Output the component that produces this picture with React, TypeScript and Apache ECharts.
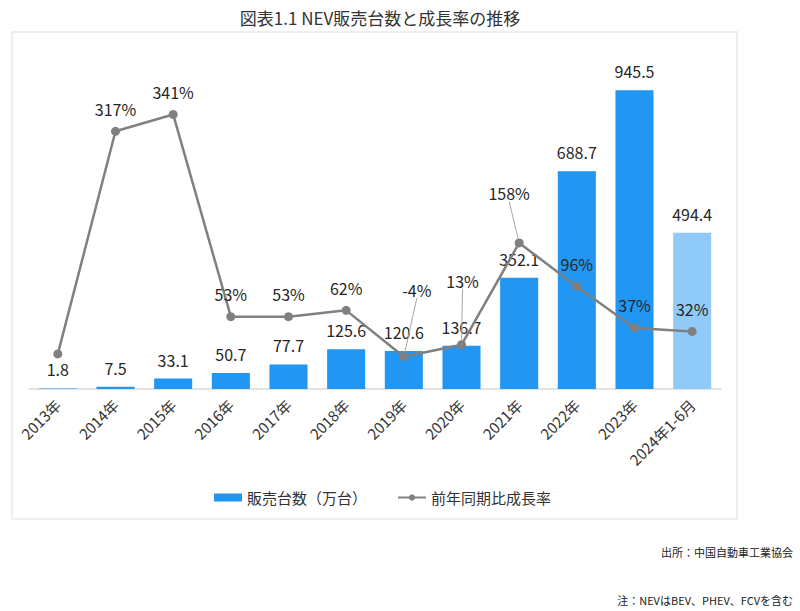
import React, { useEffect, useRef } from "react";
import * as echarts from "echarts";

const categories = [
  "2013年", "2014年", "2015年", "2016年", "2017年", "2018年",
  "2019年", "2020年", "2021年", "2022年", "2023年", "2024年1-6月",
];
const sales = [1.8, 7.5, 33.1, 50.7, 77.7, 125.6, 120.6, 136.7, 352.1, 688.7, 945.5, 494.4];
const growth = [0, 317, 341, 53, 53, 62, -4, 13, 158, 96, 37, 32];
const seriesNames = ["販売台数（万台）", "前年同期比成長率"];
const titleText = "図表1.1 NEV販売台数と成長率の推移";
const sourceText = "出所：中国自動車工業協会";
const noteText = "注：NEVはBEV、PHEV、FCVを含む";

const FONT = "'Noto Sans CJK JP', 'Noto Sans', sans-serif";

// label offsets for growth labels with leader lines
const growthLabelShift: Record<number, [number, number]> = {
  6: [13, -44],
  7: [1, -41],
  8: [-10, -27],
};

export default function App() {
  const ref = useRef<HTMLDivElement>(null);
  useEffect(() => {
    if (!ref.current) return;
    const chart = echarts.init(ref.current, null, { renderer: "svg" });
    const option: any = {
      animation: false,
      backgroundColor: "#ffffff",
      textStyle: { fontFamily: FONT },
      title: {
        text: titleText,
        left: 375,
        top: 4,
        textAlign: "center",
        textStyle: { fontFamily: FONT, fontSize: 17, fontWeight: "normal", color: "#333333" },
      },
      graphic: [
        {
          type: "rect",
          z: -10,
          shape: { x: 12, y: 32, width: 725, height: 487 },
          style: { fill: "none", stroke: "#eeeeee", lineWidth: 2 },
        },
        {
          type: "text",
          x: 793,
          y: 552,
          style: {
            text: sourceText,
            align: "right",
            verticalAlign: "middle",
            fontFamily: FONT,
            fontSize: 11,
            fill: "#222222",
          },
        },
        {
          type: "text",
          x: 793,
          y: 600,
          style: {
            text: noteText,
            align: "right",
            verticalAlign: "middle",
            fontFamily: FONT,
            fontSize: 11,
            fill: "#222222",
          },
        },
      ],
      legend: {
        left: 209,
        top: 485,
        itemGap: 30,
        itemWidth: 28,
        itemHeight: 8,
        textStyle: { fontFamily: FONT, fontSize: 15, color: "#333333" },
        data: [
          { name: seriesNames[0], icon: "rect" },
          { name: seriesNames[1] },
        ],
      },
      grid: { left: 29, right: 79, top: 73, bottom: 222, containLabel: false },
      xAxis: {
        type: "category",
        data: categories,
        axisLine: { show: true, lineStyle: { color: "#d9d9d9", width: 1.5 } },
        axisTick: { show: false },
        axisLabel: {
          rotate: 45,
          interval: 0,
          margin: 13,
          fontFamily: FONT,
          fontSize: 15,
          color: "#333333",
        },
      },
      yAxis: [
        { type: "value", min: 0, max: 1000, show: false, splitLine: { show: false } },
        { type: "value", min: -50, max: 400, show: false, splitLine: { show: false } },
      ],
      series: [
        {
          name: seriesNames[0],
          type: "bar",
          yAxisIndex: 0,
          barCategoryGap: "34%",
          itemStyle: { color: "#2196f3" },
          label: {
            show: true,
            position: "top",
            distance: 11,
            fontFamily: FONT,
            fontSize: 16,
            color: "#262626",
          },
          data: sales.map((v, i) =>
            i === sales.length - 1
              ? { value: v, itemStyle: { color: "#90caf9" } }
              : { value: v }
          ),
          z: 2,
        },
        {
          name: seriesNames[1],
          type: "line",
          yAxisIndex: 1,
          symbol: "circle",
          symbolSize: 9,
          itemStyle: { color: "#808080" },
          lineStyle: { color: "#808080", width: 2.5 },
          label: {
            show: true,
            position: "top",
            distance: 10,
            fontFamily: FONT,
            fontSize: 16,
            color: "#262626",
            formatter: (p: any) => `${p.value}%`,
          },
          labelLine: { show: false, lineStyle: { color: "#a6a6a6", width: 1 } },
          labelLayout: (params: any) => {
            const s = growthLabelShift[params.dataIndex];
            if (s) return { dx: s[0], dy: s[1] };
            return {};
          },
          data: growth.map((v, i) => {
            if (i === 0) return { value: v, label: { show: false } };
            if (growthLabelShift[i])
              return {
                value: v,
                labelLine: { show: true, lineStyle: { color: "#a6a6a6", width: 1 } },
              };
            return { value: v };
          }),
          z: 5,
        },
      ],
    };
    chart.setOption(option);
    return () => chart.dispose();
  }, []);
  return (
    <div
      ref={ref}
      style={{ position: "fixed", left: 0, top: 0, width: 800, height: 611 }}
    />
  );
}
